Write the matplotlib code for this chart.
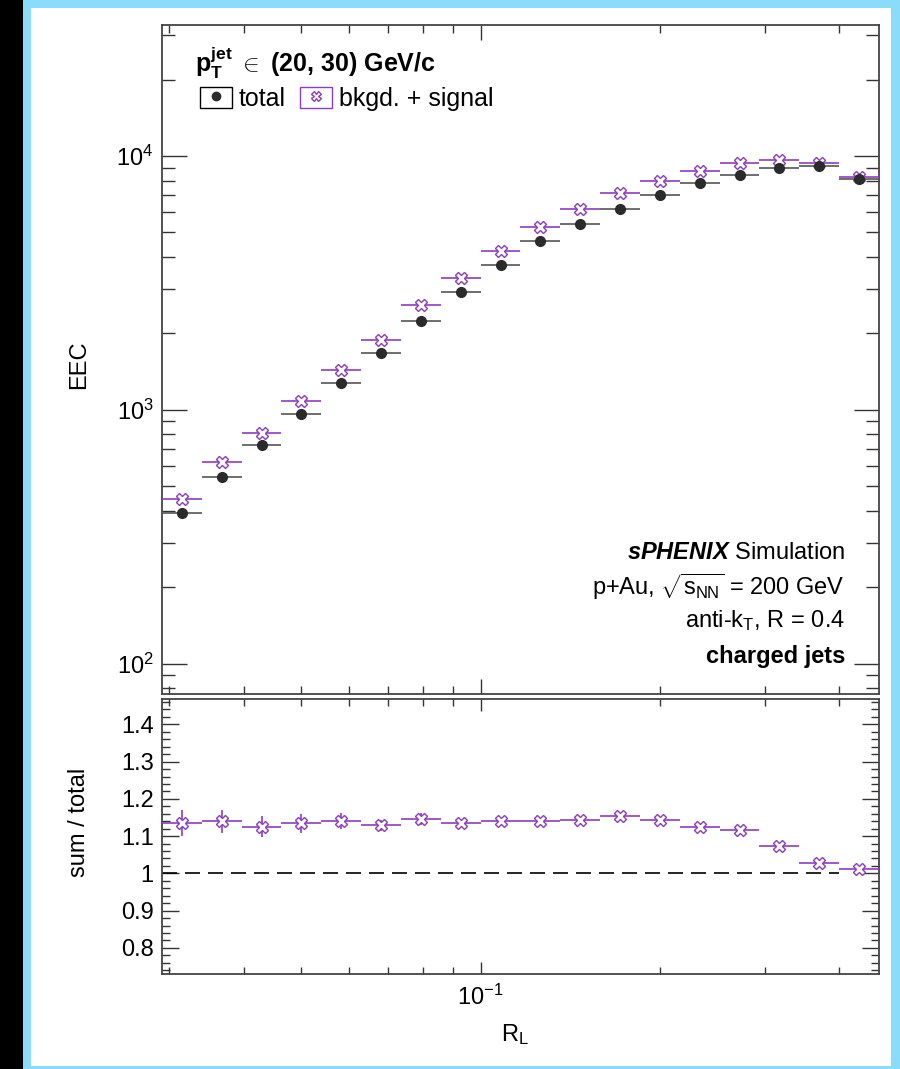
import matplotlib
matplotlib.use('Agg')
import matplotlib.pyplot as plt
import matplotlib.ticker as ticker
from matplotlib.patches import Rectangle
from matplotlib.lines import Line2D
from matplotlib.legend_handler import HandlerTuple
import numpy as np

plt.rcParams['font.family'] = 'Liberation Sans'
plt.rcParams['mathtext.fontset'] = 'custom'
plt.rcParams['mathtext.rm'] = 'Liberation Sans'
plt.rcParams['mathtext.it'] = 'Liberation Sans:italic'
plt.rcParams['mathtext.bf'] = 'Liberation Sans:bold'
plt.rcParams['mathtext.bfit'] = 'Liberation Sans:italic:bold'
plt.rcParams['mathtext.sf'] = 'Liberation Sans'

# R_L bin edges (log binning)
bin_edges = [0.02917, 0.03402, 0.03969, 0.04630, 0.05401, 0.06300, 0.07349,
             0.08573, 0.1, 0.11665, 0.13608, 0.15874, 0.18517, 0.21601,
             0.25198, 0.29394, 0.34288, 0.4, 0.46661]

# EEC values
eec_total = [393, 545, 724, 962, 1274, 1672, 2241, 2905, 3713, 4627, 5400,
             6185, 7020, 7805, 8417, 8940, 9160, 8150]
eec_sum = [447, 622, 809, 1085, 1442, 1887, 2590, 3300, 4240, 5270, 6170,
           7170, 7995, 8700, 9410, 9645, 9410, 8260]

# sum / total ratio and its uncertainty
ratio = [1.136, 1.140, 1.125, 1.134, 1.140, 1.129, 1.147, 1.134, 1.140, 1.140,
         1.143, 1.154, 1.143, 1.125, 1.116, 1.073, 1.029, 1.013]
ratio_err = [0.035, 0.031, 0.028, 0.025, 0.022, 0.015, 0.016, 0.010, 0.008,
             0.007, 0.006, 0.006, 0.005, 0.005, 0.004, 0.004, 0.004, 0.004]

edges = np.array(bin_edges)
lo, hi = edges[:-1], edges[1:]
centers = np.sqrt(lo * hi)
xerr = [centers - lo, hi - centers]

purple = '#8c3cc0'
dark = '#2b2b2b'
fs = 17

fig = plt.figure(figsize=(9, 10.69), dpi=100, facecolor='black')
fig.patches.append(Rectangle((23 / 900, 0), 877 / 900, 1, transform=fig.transFigure,
                             facecolor='#8adcfa', edgecolor='none', zorder=-3))
fig.patches.append(Rectangle((31 / 900, 3 / 1069), 860 / 900, 1058 / 1069,
                             transform=fig.transFigure, facecolor='white',
                             edgecolor='none', zorder=-2))

ax1 = fig.add_axes([0.18, 0.35079, 0.79667, 0.62582])
ax2 = fig.add_axes([0.18, 0.08887, 0.79667, 0.25725])

for ax in (ax1, ax2):
    ax.set_xscale('log')
    ax.set_xlim(edges[0], edges[-1])
    for sp in ax.spines.values():
        sp.set_color('#444444')
        sp.set_linewidth(1.3)
    ax.tick_params(which='both', direction='in', top=True, right=True,
                   labelsize=fs, color='#333333', width=1)
    ax.xaxis.set_minor_formatter(ticker.NullFormatter())

# upper panel
ax1.set_yscale('log')
ax1.errorbar(centers, eec_sum, xerr=xerr, fmt='X', color=purple, mfc='white',
             mec=purple, ms=8.5, mew=1.0, elinewidth=1.2, capsize=0, zorder=3)
ax1.errorbar(centers, eec_total, xerr=xerr, fmt='o', color='#555555', mfc=dark,
             mec=dark, ms=7, elinewidth=1.2, capsize=0, zorder=4)
ax1.set_ylim(76, 32800)
ax1.tick_params(axis='y', which='major', length=18, pad=6)
ax1.tick_params(axis='y', which='minor', length=9.4)
ax1.tick_params(axis='x', which='major', length=10.8)
ax1.tick_params(axis='x', which='minor', length=5.5)
ax1.tick_params(axis='x', labelbottom=False)
ax1.yaxis.set_minor_formatter(ticker.NullFormatter())
ax1.set_ylabel('EEC', fontsize=fs)
ax1.yaxis.set_label_coords(-0.100, 0.492)

ax1.text(0.046, 0.943, r'$\mathbf{p_{T}^{jet}}$ $\in$ (20, 30) GeV/c',
         transform=ax1.transAxes, fontsize=18, fontweight='bold', va='center')

h_total = (Rectangle((0, 0), 1, 1, facecolor='white', edgecolor='black', lw=1.0),
           Line2D([], [], marker='o', ls='none', color=dark, ms=6))
h_sum = (Rectangle((0, 0), 1, 1, facecolor='white', edgecolor=purple, lw=1.0),
         Line2D([], [], marker='X', ls='none', mfc='white', mec=purple, ms=7))
ax1.legend([h_total, h_sum], ['total', 'bkgd. + signal'],
           handler_map={tuple: HandlerTuple(ndivide=1, pad=0)},
           loc='upper left', bbox_to_anchor=(0.053, 0.908), ncol=2,
           frameon=False, fontsize=18, borderpad=0, borderaxespad=0,
           handlelength=1.28, handleheight=0.92, handletextpad=0.25,
           columnspacing=0.6)

tx = 0.9526
ax1.text(tx, 0.211, r'$\mathbfit{sPHENIX}$ Simulation', transform=ax1.transAxes,
         fontsize=fs, ha='right', va='center')
ax1.text(tx, 0.160, r'p+Au, $\sqrt{\mathrm{s}_{\rm NN}}$ = 200 GeV',
         transform=ax1.transAxes, fontsize=fs, ha='right', va='center')
ax1.text(tx, 0.110, r'anti-k$_{\rm T}$, R = 0.4', transform=ax1.transAxes,
         fontsize=fs, ha='right', va='center')
ax1.text(tx, 0.056, 'charged jets', transform=ax1.transAxes,
         fontsize=fs, ha='right', va='center', fontweight='bold')

# lower panel
ax2.errorbar(centers, ratio, xerr=xerr, yerr=ratio_err, fmt='X', color=purple,
             mfc='white', mec=purple, ms=8.5, mew=1.0, elinewidth=1.2,
             capsize=0, zorder=3)
ax2.hlines(1, edges[0], 0.4, colors='black', linewidth=1.2,
           linestyles=(0, (9, 4.8)), zorder=2)
ax2.set_ylim(0.73, 1.468)
ax2.yaxis.set_major_locator(ticker.MultipleLocator(0.1))
ax2.yaxis.set_minor_locator(ticker.MultipleLocator(0.02))
ax2.yaxis.set_major_formatter(ticker.FuncFormatter(lambda v, p: '%g' % round(v, 2)))
ax2.tick_params(axis='y', which='major', length=12, pad=6)
ax2.tick_params(axis='y', which='minor', length=6)
ax2.tick_params(axis='x', which='major', length=8.6, pad=8)
ax2.tick_params(axis='x', which='minor', length=5)
ax2.set_ylabel('sum / total', fontsize=fs)
ax2.yaxis.set_label_coords(-0.100, 0.553)
ax2.set_xlabel(r'R$_{\rm L}$', fontsize=fs)
ax2.xaxis.set_label_coords(0.492, -0.175)

fig.savefig('out.png', dpi=100, facecolor=fig.get_facecolor())
